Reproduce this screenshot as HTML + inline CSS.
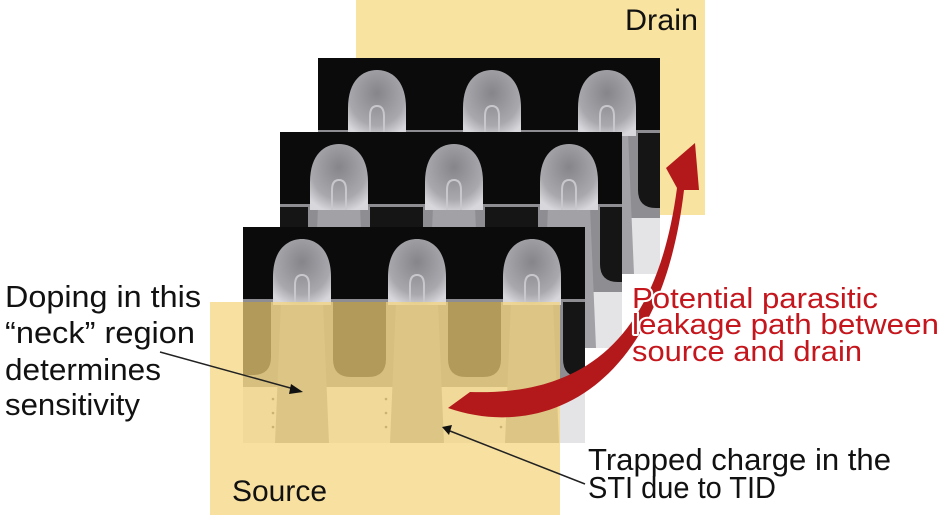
<!DOCTYPE html>
<html><head><meta charset="utf-8"><style>html,body{margin:0;padding:0;background:#fff}svg{display:block}</style></head>
<body>
<svg width="945" height="520" viewBox="0 0 945 520" xmlns="http://www.w3.org/2000/svg" font-family="Liberation Sans, sans-serif">
<defs>
<radialGradient id="fin" cx="0.5" cy="0.35" r="0.7">
<stop offset="0" stop-color="#85858a"/><stop offset="0.7" stop-color="#a8a8ad"/><stop offset="1" stop-color="#d8d8dc"/>
</radialGradient>
<g id="panel">
<rect x="0" y="0" width="342" height="216" fill="#0b0b0c"/>
<rect x="0" y="72" width="342" height="144" fill="#8e8e92"/>
<rect x="0" y="160" width="342" height="56" fill="#e4e4e6"/>
<path d="M0,75 H28 V130 Q28,148 10,148 H0 Z" fill="#151516"/>
<path d="M90,75 H143 V132 Q143,150 125,150 H108 Q90,150 90,132 Z" fill="#151516"/>
<path d="M205,75 H258 V132 Q258,150 240,150 H223 Q205,150 205,132 Z" fill="#151516"/>
<path d="M320,75 H342 V150 H338 Q320,150 320,132 Z" fill="#151516"/>
<path d="M38,75 H80 L86,216 H32 Z" fill="#a2a2a6"/>
<path d="M153,75 H195 L201,216 H147 Z" fill="#a2a2a6"/>
<path d="M268,75 H310 L316,216 H262 Z" fill="#a2a2a6"/>
<path d="M30,78 V50 C30,22 45,12 59,12 C73,12 88,22 88,50 V78 Z" fill="url(#fin)"/>
<path d="M145,78 V50 C145,22 160,12 174,12 C188,12 203,22 203,50 V78 Z" fill="url(#fin)"/>
<path d="M260,78 V50 C260,22 275,12 289,12 C303,12 318,22 318,50 V78 Z" fill="url(#fin)"/>
<path d="M52,78 V58 Q52,48 59,48 Q66,48 66,58 V78" fill="none" stroke="#c8c8cc" stroke-width="2"/>
<path d="M167,78 V58 Q167,48 174,48 Q181,48 181,58 V78" fill="none" stroke="#c8c8cc" stroke-width="2"/>
<path d="M282,78 V58 Q282,48 289,48 Q296,48 296,58 V78" fill="none" stroke="#c8c8cc" stroke-width="2"/>
<g fill="#666"><circle cx="30" cy="172" r="1.3"/><circle cx="30" cy="186" r="1.3"/><circle cx="30" cy="200" r="1.3"/>
<circle cx="143" cy="172" r="1.3"/><circle cx="143" cy="186" r="1.3"/><circle cx="143" cy="200" r="1.3"/>
<circle cx="258" cy="172" r="1.3"/><circle cx="258" cy="186" r="1.3"/><circle cx="258" cy="200" r="1.3"/></g>
</g>
</defs>
<rect x="356" y="0" width="349" height="215" fill="#f9e3a0"/>
<use href="#panel" x="318" y="58"/>
<use href="#panel" x="280" y="132"/>
<use href="#panel" x="243" y="227"/>
<rect x="210" y="302" width="350" height="213" fill="#f5d477" fill-opacity="0.7"/>
<path d="M448,408 C540,440 660,395 684,190 L699,190 L695,143 L666,168 L677,188 C655,355 570,395 470,392 Z" fill="#b3191b"/>
<text x="625" y="30" font-size="30" fill="#111" textLength="73" lengthAdjust="spacingAndGlyphs">Drain</text>
<text x="232" y="501" font-size="30" fill="#111" textLength="95" lengthAdjust="spacingAndGlyphs">Source</text>
<g font-size="31" fill="#111" lengthAdjust="spacingAndGlyphs">
<text x="5" y="307" textLength="196" lengthAdjust="spacingAndGlyphs">Doping in this</text>
<text x="5" y="343" textLength="190" lengthAdjust="spacingAndGlyphs">“neck” region</text>
<text x="5" y="380" textLength="156" lengthAdjust="spacingAndGlyphs">determines</text>
<text x="5" y="415" textLength="135" lengthAdjust="spacingAndGlyphs">sensitivity</text>
<text x="588" y="470" textLength="303" lengthAdjust="spacingAndGlyphs">Trapped charge in the</text>
<text x="588" y="498" textLength="188" lengthAdjust="spacingAndGlyphs">STI due to TID</text>
</g>
<g font-size="29" fill="#c4161c" stroke="#fff" stroke-width="4" paint-order="stroke" stroke-linejoin="round">
<text x="632" y="308" textLength="246" lengthAdjust="spacingAndGlyphs">Potential parasitic</text>
<text x="632" y="334" textLength="307" lengthAdjust="spacingAndGlyphs">leakage path between</text>
<text x="632" y="361" textLength="230" lengthAdjust="spacingAndGlyphs">source and drain</text>
</g>
<line x1="160" y1="352" x2="294" y2="389" stroke="#222" stroke-width="1.5"/>
<path d="M303,392 L291,384 L289,394 Z" fill="#111"/>
<line x1="585" y1="484" x2="450" y2="431" stroke="#222" stroke-width="1.5"/>
<path d="M442,427 L452,425 L449,435 Z" fill="#111"/>
</svg>
</body></html>
